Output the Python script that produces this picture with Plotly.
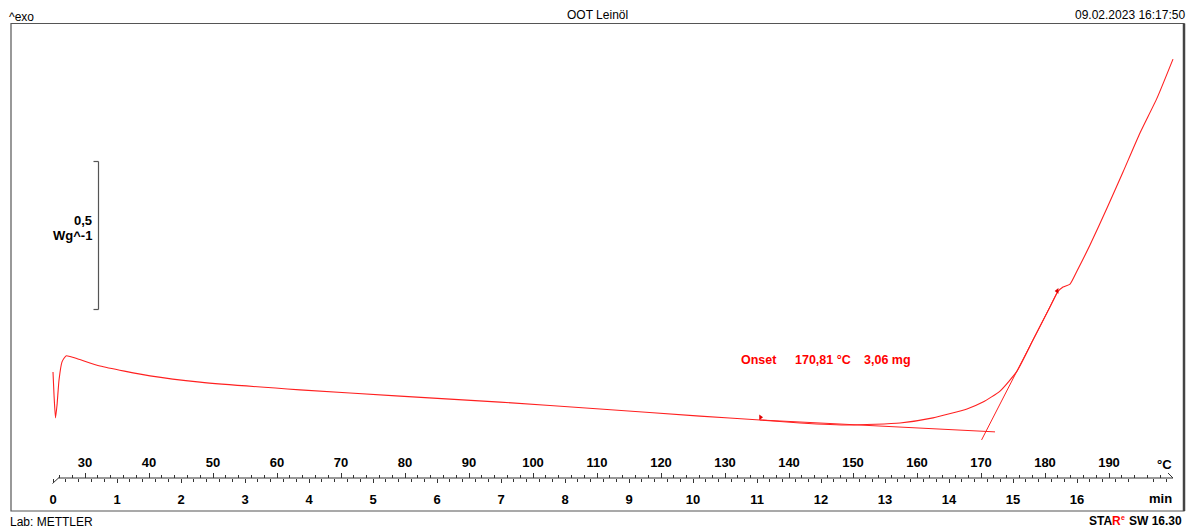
import plotly.graph_objects as go

# ---------------- data ----------------
temp_c = [25.0, 25.16, 25.39, 25.63, 25.94, 26.41, 27.03, 28.44, 32.34, 40.16,
          47.97, 63.59, 79.22, 94.84, 110.47, 126.09, 135.47, 141.72, 149.53,
          157.34, 162.5, 167.81, 170.31, 172.97, 175.63, 178.13, 180.78, 181.95,
          182.81, 183.91, 185.0, 187.03, 189.69, 192.19, 194.84, 197.5, 200.0]
heat_flow = [0.094, 0.017, -0.060, -0.017, 0.067, 0.128, 0.148, 0.141, 0.114, 0.081,
             0.060, 0.034, 0.013, -0.007, -0.030, -0.054, -0.067, -0.077, -0.084,
             -0.077, -0.060, -0.030, -0.007, 0.030, 0.097, 0.201, 0.312, 0.362,
             0.379, 0.389, 0.433, 0.520, 0.644, 0.765, 0.896, 1.013, 1.144]

baseline_T = [135.47, 172.19]
baseline_hf = [-0.067, -0.107]
tangent_T = [170.09, 181.95]
tangent_hf = [-0.134, 0.362]

limit_T = [135.55, 181.9]
limit_hf = [-0.058, 0.366]

temp_ticks = list(range(30, 200, 10))
temp_minor = [t for t in range(26, 200, 2) if t % 10 != 0]
time_ticks = list(range(0, 17))
time_minor = [round(i * 0.2, 1) for i in range(0, 88) if i % 5 != 0]

start_temp = 25.0
heating_rate = 10.0  # K/min

title_text = "OOT Leinöl"
date_text = "09.02.2023 16:17:50"
onset_label = "Onset"
onset_temp = "170,81 °C"
onset_mass = "3,06 mg"
scale_value = "0,5"
scale_unit = "Wg^-1"

# ---------------- layout helpers ----------------
W, H = 1189, 528
def fx(px):
    return px / W
def fy(py):
    return 1 - py / H

x_lo = start_temp - 53 / 6.4
x_hi = start_temp + (W - 53) / 6.4
t_lo = (x_lo - start_temp) / heating_rate
t_hi = (x_hi - start_temp) / heating_rate
y_hi = 400 / 298
y_lo = (400 - H) / 298
ruler_y = fy(478)

RED = "#ff2020"
FONT = "Liberation Sans"

fig = go.Figure()
fig.add_trace(go.Scatter(x=temp_c, y=heat_flow, mode="lines",
                         line=dict(color=RED, width=1.1, shape="spline", smoothing=0.5),
                         hoverinfo="skip", showlegend=False))
fig.add_trace(go.Scatter(x=baseline_T, y=baseline_hf, mode="lines",
                         line=dict(color=RED, width=1), hoverinfo="skip", showlegend=False))
fig.add_trace(go.Scatter(x=tangent_T, y=tangent_hf, mode="lines",
                         line=dict(color=RED, width=1), hoverinfo="skip", showlegend=False))
fig.add_trace(go.Scatter(x=limit_T[:1], y=limit_hf[:1], mode="markers",
                         marker=dict(symbol="triangle-right", size=5, color="#e00000"),
                         hoverinfo="skip", showlegend=False))
fig.add_trace(go.Scatter(x=limit_T[1:], y=limit_hf[1:], mode="markers",
                         marker=dict(symbol="triangle-left", size=5, color="#e00000"),
                         hoverinfo="skip", showlegend=False))
# invisible anchor trace so the time axis is drawn
fig.add_trace(go.Scatter(x=[0], y=[0], xaxis="x2", mode="markers",
                         marker=dict(opacity=0), hoverinfo="skip", showlegend=False))

tickfont = dict(family=FONT, size=13, color="black", weight="bold")

fig.update_layout(
    width=W, height=H, autosize=False,
    margin=dict(l=0, r=0, t=0, b=0, pad=0),
    paper_bgcolor="white", plot_bgcolor="white",
    xaxis=dict(range=[x_lo, x_hi], side="top", anchor="free", position=ruler_y,
               showgrid=False, zeroline=False, showline=False,
               tickmode="array", tickvals=temp_ticks, ticks="outside",
               ticklen=5, tickwidth=1, tickcolor="#333", tickfont=tickfont,
               ticklabelstandoff=1,
               minor=dict(tickmode="array", tickvals=temp_minor, ticks="outside",
                          ticklen=3, tickwidth=1, tickcolor="#333"),
               fixedrange=True),
    xaxis2=dict(range=[t_lo, t_hi], overlaying="x", side="bottom", anchor="free",
                position=ruler_y, showgrid=False, zeroline=False, showline=False,
                tickmode="array", tickvals=time_ticks, ticks="outside",
                ticklen=4, tickwidth=1, tickcolor="#333", tickfont=tickfont,
                ticklabelstandoff=5,
                minor=dict(tickmode="array", tickvals=time_minor, ticks="outside",
                           ticklen=3, tickwidth=1, tickcolor="#333"),
                fixedrange=True),
    yaxis=dict(range=[y_lo, y_hi], visible=False, fixedrange=True),
)

# frame
shapes = [
    dict(type="rect", xref="paper", yref="paper", x0=fx(11), x1=fx(1184),
         y0=fy(511), y1=fy(23.5), line=dict(color="#555", width=1.2)),
    dict(type="line", xref="paper", yref="paper", x0=fx(1184), x1=fx(1184),
         y0=fy(511), y1=fy(23.5), line=dict(color="#444", width=2.5)),
    # ruler line
    dict(type="line", xref="x", yref="paper", x0=start_temp + 0.8, x1=200.0,
         y0=ruler_y, y1=ruler_y, line=dict(color="#333", width=1)),
    dict(type="line", xref="paper", yref="paper", x0=fx(52.5), x1=fx(58.5),
         y0=fy(483.5), y1=ruler_y, line=dict(color="#333", width=1)),
    dict(type="line", xref="paper", yref="paper", x0=fx(1168), x1=fx(1173),
         y0=fy(473), y1=ruler_y, line=dict(color="#333", width=1)),
    # scale bar
    dict(type="line", xref="paper", yref="paper", x0=fx(98.5), x1=fx(98.5),
         y0=fy(161.5), y1=fy(309.5), line=dict(color="#555", width=1.2)),
    dict(type="line", xref="paper", yref="paper", x0=fx(93.5), x1=fx(98.5),
         y0=fy(161.5), y1=fy(161.5), line=dict(color="#555", width=1.2)),
    dict(type="line", xref="paper", yref="paper", x0=fx(93.5), x1=fx(98.5),
         y0=fy(309.5), y1=fy(309.5), line=dict(color="#555", width=1.2)),
]
fig.update_layout(shapes=shapes)

def txt(px, py, text, anchor="left", size=12, color="black", bold=False):
    return dict(xref="paper", yref="paper", x=fx(px), y=fy(py), text=text,
                showarrow=False, xanchor=anchor, yanchor="middle",
                borderpad=0, borderwidth=0,
                font=dict(family=FONT, size=size, color=color,
                          weight="bold" if bold else "normal"))

annots = [
    txt(9, 16.5, "^exo", size=12),
    txt(598, 14.5, title_text, anchor="center", size=12),
    txt(1185, 14.5, date_text, anchor="right", size=12),
    txt(10, 521.5, "Lab: METTLER", size=12),
    txt(1112, 521, "STA", anchor="right", size=12, bold=True),
    txt(1112, 521, "R", anchor="left", size=12, color="#ff0000", bold=True),
    txt(1120.5, 517, "e", anchor="left", size=7, color="#ff0000", bold=True),
    txt(1182, 521, "SW 16.30", anchor="right", size=12, bold=True),
    txt(92, 220, scale_value, anchor="right", size=13, bold=True),
    txt(92, 235, scale_unit, anchor="right", size=13, bold=True),
    txt(1172, 464, "°C", anchor="right", size=13, bold=True),
    txt(1172, 498, "min", anchor="right", size=13, bold=True),
    txt(741, 359.5, onset_label, size=12.5, color="#ff0000", bold=True),
    txt(795, 359.5, onset_temp, size=12.5, color="#ff0000", bold=True),
    txt(864, 359.5, onset_mass, size=12.5, color="#ff0000", bold=True),
]
fig.update_layout(annotations=annots)

fig.write_html("out.html")
